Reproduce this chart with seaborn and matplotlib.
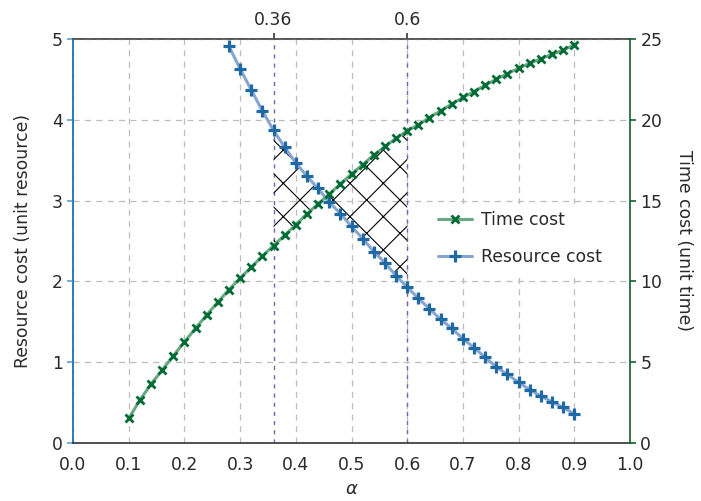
import numpy as np
import pandas as pd
import matplotlib
matplotlib.use("Agg")
import matplotlib.pyplot as plt
import seaborn as sns

# ---------------- data ----------------
alpha_time = [0.10, 0.12, 0.14, 0.16, 0.18, 0.20, 0.22, 0.24, 0.26, 0.28,
              0.30, 0.32, 0.34, 0.36, 0.38, 0.40, 0.42, 0.44, 0.46, 0.48,
              0.50, 0.52, 0.54, 0.56, 0.58, 0.60, 0.62, 0.64, 0.66, 0.68,
              0.70, 0.72, 0.74, 0.76, 0.78, 0.80, 0.82, 0.84, 0.86, 0.88, 0.90]
time_cost = [1.52, 2.65, 3.64, 4.51, 5.39, 6.25, 7.10, 7.92, 8.72, 9.49,
             10.20, 10.88, 11.56, 12.22, 12.86, 13.50, 14.18, 14.80, 15.41, 16.03,
             16.65, 17.22, 17.82, 18.35, 18.85, 19.32, 19.69, 20.14, 20.56, 20.97,
             21.38, 21.75, 22.14, 22.51, 22.86, 23.19, 23.50, 23.78, 24.06, 24.32, 24.63]

alpha_res = [0.28, 0.30, 0.32, 0.34, 0.36, 0.38, 0.40, 0.42, 0.44, 0.46,
             0.48, 0.50, 0.52, 0.54, 0.56, 0.58, 0.60, 0.62, 0.64, 0.66,
             0.68, 0.70, 0.72, 0.74, 0.76, 0.78, 0.80, 0.82, 0.84, 0.86, 0.88, 0.90]
resource_cost = [4.91, 4.63, 4.37, 4.11, 3.87, 3.66, 3.47, 3.30, 3.15, 2.98,
                 2.84, 2.68, 2.53, 2.37, 2.23, 2.07, 1.93, 1.79, 1.66, 1.53,
                 1.42, 1.29, 1.18, 1.06, 0.94, 0.85, 0.75, 0.66, 0.58, 0.51, 0.44, 0.36]

marked_alphas = [0.36, 0.6]
marked_labels = ["0.36", "0.6"]
x_ticks = [0.0, 0.1, 0.2, 0.3, 0.4, 0.5, 0.6, 0.7, 0.8, 0.9, 1.0]
left_ticks = [0, 1, 2, 3, 4, 5]
right_ticks = [0, 5, 10, 15, 20, 25]

# ---------------- style ----------------
sns.set_style("white")
plt.rcParams["font.family"] = ["DejaVu Sans"]
plt.rcParams["font.size"] = 6.2
plt.rcParams["hatch.linewidth"] = 0.4
plt.rcParams["lines.scale_dashes"] = False
plt.rcParams["mathtext.fontset"] = "dejavusans"

BLUE_LINE = "#86a5cf"
BLUE_MARK = "#1f6aa5"
GREEN_LINE = "#6aa882"
GREEN_MARK = "#006b35"
BLUE_SPINE = "#2c7bb6"
GREEN_SPINE = "#11612e"
GRID = "#bdbdbd"
VLINE = "#6c6ca8"
TXT = "#2a2a2a"
FS = 6.2

fig = plt.figure(figsize=(3.505, 2.505), dpi=200)
ax = fig.add_axes([73 / 701, 1 - 443 / 501, (630 - 73) / 701, (443 - 39) / 501])
ax2 = ax.twinx()

df_t = pd.DataFrame({"alpha": alpha_time, "time": time_cost})
df_r = pd.DataFrame({"alpha": alpha_res, "res": resource_cost})

# resource cost on left axis
sns.lineplot(data=df_r, x="alpha", y="res", ax=ax, color=BLUE_LINE, lw=1.1,
             marker="+", markersize=4.4, markeredgewidth=1.15,
             markeredgecolor=BLUE_MARK, markerfacecolor=BLUE_MARK,
             label="Resource cost", legend=False, zorder=3)

# time cost on right axis
sns.lineplot(data=df_t, x="alpha", y="time", ax=ax2, color=GREEN_LINE, lw=1.1,
             marker="x", markersize=2.7, markeredgewidth=1.0,
             markeredgecolor=GREEN_MARK, markerfacecolor=GREEN_MARK,
             label="Time cost", legend=False, zorder=3)

ax.set_xlim(0, 1)
ax.set_ylim(0, 5)
ax2.set_ylim(0, 25)

# hatched region between the curves, for 0.36 <= alpha <= 0.6
a_t = np.array(alpha_time)
t_v = np.array(time_cost)
a_r = np.array(alpha_res)
r_v = np.array(resource_cost)
m_r = (a_r >= 0.36 - 1e-9) & (a_r <= 0.6 + 1e-9)
sel_t = np.array([t_v[np.argmin(np.abs(a_t - a))] for a in a_r[m_r]])
scale = ax.get_ylim()[1] / ax2.get_ylim()[1]
ax.fill_between(a_r[m_r], r_v[m_r], sel_t * scale, facecolor="none",
                edgecolor="black", hatch="xx", linewidth=0, zorder=2)

# vertical marker lines
for a in marked_alphas:
    ax.axvline(a, color=VLINE, lw=0.5, linestyle=(0, (1.5, 1.8)), zorder=1.5)

# grid
ax.set_xticks(x_ticks)
ax.set_yticks(left_ticks)
ax2.set_yticks(right_ticks)
ax.grid(True, color=GRID, lw=0.45, linestyle=(0, (2.2, 1.9)))
ax2.grid(False)

# spines
for s in ["left", "right", "top", "bottom"]:
    ax2.spines[s].set_visible(s == "right")
ax.spines["right"].set_visible(False)
ax.spines["left"].set_color(BLUE_SPINE)
ax.spines["left"].set_linewidth(0.7)
ax.spines["bottom"].set_color("#333333")
ax.spines["bottom"].set_linewidth(0.6)
ax.spines["top"].set_color("#555555")
ax.spines["top"].set_linewidth(0.6)
ax2.spines["right"].set_color(GREEN_SPINE)
ax2.spines["right"].set_linewidth(0.6)

ax.tick_params(axis="x", direction="out", length=2.0, width=0.5, colors="#333333",
               labelcolor=TXT, labelsize=FS, pad=2.5)
ax.tick_params(axis="y", direction="out", length=2.2, width=0.6, colors="#5b9fd0",
               labelcolor=TXT, labelsize=FS, pad=1.5)
ax2.tick_params(axis="y", direction="out", length=2.2, width=0.6, colors=GREEN_SPINE,
                labelcolor=TXT, labelsize=FS, pad=1.5)

ax.set_xticklabels([f"{v:.1f}" for v in x_ticks])
ax.set_yticklabels([str(v) for v in left_ticks])
ax2.set_yticklabels([str(v) for v in right_ticks])

# top axis with marked alphas
sec = ax.secondary_xaxis("top")
sec.set_xticks(marked_alphas)
sec.set_xticklabels(marked_labels)
sec.spines["top"].set_color("#555555")
sec.spines["top"].set_linewidth(0.6)
sec.tick_params(axis="x", direction="out", length=2.2, width=0.6, colors="#333333",
                labelcolor=TXT, labelsize=FS, pad=1.5)

ax.set_xlabel(r"$\alpha$", fontsize=6.5, color=TXT, labelpad=2.5)
ax.set_ylabel("Resource cost (unit resource)", fontsize=FS, color=TXT, labelpad=7)
ax2.set_ylabel("Time cost (unit time)", fontsize=FS, color=TXT, rotation=270,
               labelpad=11)

# legend
h1, l1 = ax2.get_legend_handles_labels()
h2, l2 = ax.get_legend_handles_labels()
leg = ax2.legend(h1 + h2, l1 + l2, loc="upper left",
                 bbox_to_anchor=(0.643, 0.592), borderaxespad=0.0,
                 frameon=True, fancybox=False,
                 framealpha=1.0, edgecolor="none", facecolor="white",
                 fontsize=FS, handlelength=2.0, handletextpad=0.5,
                 labelspacing=1.1, borderpad=0.4)
for t in leg.get_texts():
    t.set_color(TXT)

fig.savefig("out.png", dpi=200)
